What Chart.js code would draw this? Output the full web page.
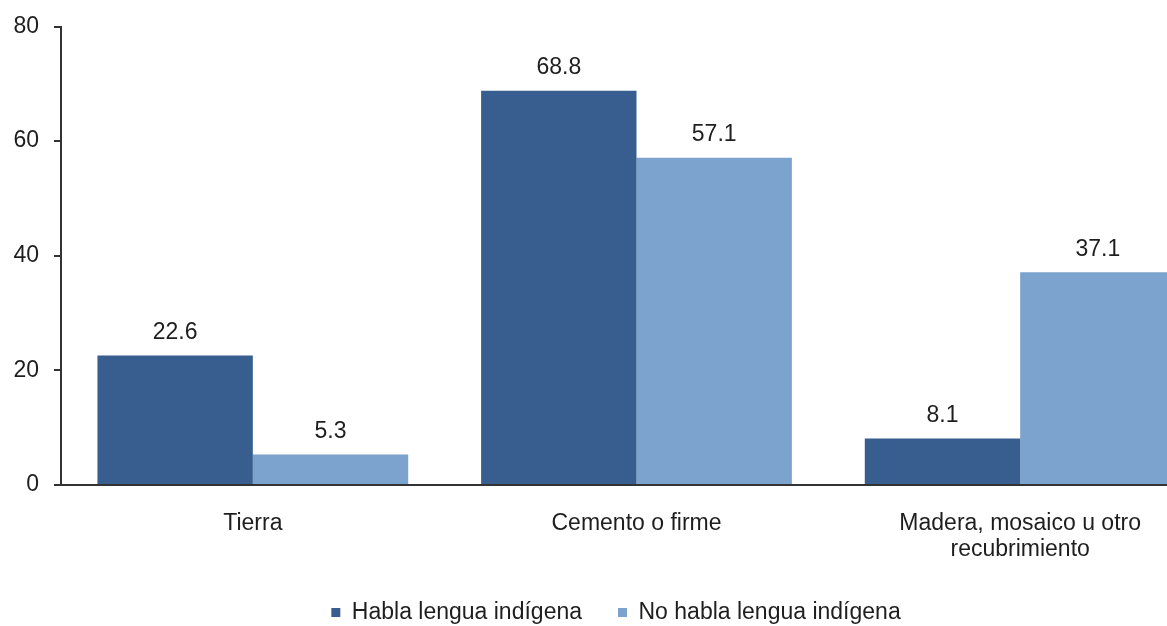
<!DOCTYPE html>
<html lang="es">
<head>
  <meta charset="UTF-8">
  <title>Tipo de piso</title>
  <script src="https://cdn.jsdelivr.net/npm/chart.js"></script>
  <style>
    html, body { margin: 0; padding: 0; background: #fff; overflow: hidden; }
    #wrap { width: 1212px; height: 626px; }
  </style>
</head>
<body>
  <div id="wrap"><canvas id="grafica"></canvas></div>
  <script>
    const categorias = ['Tierra', 'Cemento o firme', ['Madera, mosaico u otro', 'recubrimiento']];
    const habla = [22.6, 68.8, 8.1];
    const noHabla = [5.3, 57.1, 37.1];
    const ticksY = [0, 20, 40, 60, 80];

    const fuente = { family: '"Liberation Sans", Arial, sans-serif', size: 23, lineHeight: 1.15 };

    // valores sobre cada barra + leyenda un poco a la derecha
    const etiquetasValor = {
      id: 'etiquetasValor',
      afterLayout(chart) {
        chart.legend.left += 10;
        chart.legend.right += 10;
      },
      afterDatasetsDraw(chart) {
        const ctx = chart.ctx;
        ctx.save();
        ctx.font = '23px "Liberation Sans", Arial, sans-serif';
        ctx.fillStyle = '#1e1e1e';
        ctx.textAlign = 'center';
        ctx.textBaseline = 'middle';
        chart.data.datasets.forEach((ds, i) => {
          chart.getDatasetMeta(i).data.forEach((bar, j) => {
            ctx.fillText(ds.data[j].toFixed(1), bar.x, bar.y - 23);
          });
        });
        ctx.restore();
      }
    };

    new Chart(document.getElementById('grafica'), {
      type: 'bar',
      data: {
        labels: categorias,
        datasets: [
          { label: 'Habla lengua indígena', data: habla, backgroundColor: '#375E8F' },
          { label: 'No habla lengua indígena', data: noHabla, backgroundColor: '#7CA2CE' }
        ]
      },
      options: {
        responsive: true,
        maintainAspectRatio: false,
        animation: false,
        datasets: { bar: { categoryPercentage: 0.81, barPercentage: 1 } },
        layout: { padding: { top: 12, right: 0, left: 0, bottom: -8 } },
        scales: {
          x: {
            grid: { display: false },
            border: { display: true, color: '#333', width: 2 },
            ticks: { color: '#1e1e1e', font: fuente, padding: 17, maxRotation: 0 },
            afterFit: s => { s.height = 80; }
          },
          y: {
            min: 0,
            max: 80,
            afterBuildTicks: s => { s.ticks = ticksY.map(v => ({ value: v })); },
            afterFit: s => { s.width = 61; },
            grid: { drawOnChartArea: false, drawTicks: true, tickLength: 7, color: '#333', lineWidth: 2 },
            border: { display: true, color: '#333', width: 2 },
            ticks: { color: '#1e1e1e', font: { family: fuente.family, size: 23, lineHeight: 1.0 }, padding: 15 }
          }
        },
        plugins: {
          legend: {
            position: 'bottom',
            labels: {
              color: '#1e1e1e',
              font: fuente,
              boxWidth: 9,
              boxHeight: 9,
              padding: 36
            }
          },
          tooltip: { enabled: false }
        }
      },
      plugins: [etiquetasValor]
    });
  </script>
</body>
</html>
